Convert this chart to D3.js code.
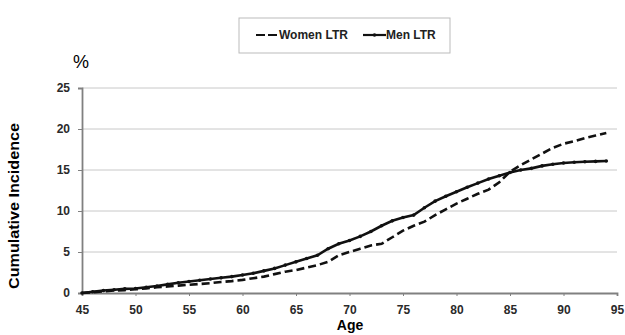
<!doctype html>
<html>
  <head>
    <script src="https://cdn.jsdelivr.net/npm/d3@7"></script>
    <style>
      body { margin: 0; background: #fff; }
      text { font-family: "Liberation Sans", Arial, sans-serif; }
    </style>
  </head>
  <body>
    <div id="my_dataviz"></div>
    <script>
      // ages 45..94, one value per year
      var ages = d3.range(45, 95);
      var womenLTR = [0.0, 0.1, 0.2, 0.3, 0.35, 0.45, 0.55, 0.7, 0.8, 0.9,
        1.0, 1.1, 1.2, 1.35, 1.45, 1.6, 1.8, 2.0, 2.3, 2.6,
        2.8, 3.1, 3.4, 3.8, 4.6, 5.0, 5.4, 5.8, 6.0, 6.8,
        7.6, 8.2, 8.7, 9.5, 10.2, 10.9, 11.5, 12.1, 12.6, 13.5,
        14.8, 15.6, 16.3, 17.0, 17.7, 18.2, 18.5, 18.9, 19.2, 19.5];
      var menLTR = [0.0, 0.15, 0.3, 0.4, 0.5, 0.55, 0.7, 0.85, 1.05, 1.25,
        1.4, 1.55, 1.7, 1.85, 2.0, 2.2, 2.4, 2.7, 3.0, 3.4,
        3.8, 4.2, 4.6, 5.4, 6.0, 6.4, 6.9, 7.5, 8.2, 8.8,
        9.2, 9.5, 10.4, 11.2, 11.8, 12.35, 12.9, 13.4, 13.9, 14.3,
        14.7, 15.0, 15.2, 15.5, 15.7, 15.85, 15.95, 16.0, 16.05, 16.1];
      var xTicks = [45, 50, 55, 60, 65, 70, 75, 80, 85, 90, 95];
      var yTicks = [0, 5, 10, 15, 20, 25];

      var W = 625, H = 335;
      var svg = d3.select("#my_dataviz")
        .append("svg")
          .attr("width", W)
          .attr("height", H);

      var x = d3.scaleLinear().domain([45, 95]).range([82, 617]);
      var y = d3.scaleLinear().domain([0, 25]).range([293, 88]);

      // gridlines
      svg.selectAll("grid")
        .data(yTicks.filter(function(d){ return d > 0; }))
        .enter()
        .append("line")
          .attr("x1", x(45)).attr("x2", x(95))
          .attr("y1", function(d){ return y(d); })
          .attr("y2", function(d){ return y(d); })
          .attr("stroke", "#c8c8c8")
          .attr("stroke-width", 1);

      // x axis
      var xAxis = svg.append("g")
        .attr("transform", "translate(0," + y(0) + ")")
        .call(d3.axisBottom(x).tickValues(xTicks).tickSize(3).tickPadding(9));
      // y axis
      var yAxis = svg.append("g")
        .attr("transform", "translate(" + x(45) + ",0)")
        .call(d3.axisLeft(y).tickValues(yTicks).tickSize(4).tickPadding(8));

      [xAxis, yAxis].forEach(function(a){
        a.select(".domain").attr("stroke", "#808080").attr("stroke-width", 1.8);
        a.selectAll(".tick line").attr("stroke", "#808080");
        a.selectAll(".tick text")
          .style("font-family", "'Liberation Sans', Arial, sans-serif")
          .style("font-size", "12px")
          .style("font-weight", "bold")
          .attr("fill", "#2a2a2a");
      });

      // line generator
      var line = d3.line()
        .x(function(d){ return x(d.age); })
        .y(function(d){ return y(d.value); });

      var women = ages.map(function(a, i){ return {age: a, value: womenLTR[i]}; });
      var men = ages.map(function(a, i){ return {age: a, value: menLTR[i]}; });

      svg.append("path")
        .attr("d", line(women))
        .attr("fill", "none")
        .attr("stroke", "#111")
        .attr("stroke-width", 2.6)
        .attr("stroke-dasharray", "8,4");

      svg.append("path")
        .attr("d", line(men))
        .attr("fill", "none")
        .attr("stroke", "#111")
        .attr("stroke-width", 2.6);

      // small markers on men line
      svg.selectAll("menDots")
        .data(men)
        .enter()
        .append("circle")
          .attr("cx", function(d){ return x(d.age); })
          .attr("cy", function(d){ return y(d.value); })
          .attr("r", 1.8)
          .attr("fill", "#111");

      // titles
      svg.append("text")
        .attr("x", 81).attr("y", 68)
        .attr("text-anchor", "middle")
        .style("font-size", "18px")
        .text("%");

      svg.append("text")
        .attr("transform", "translate(19,206) rotate(-90)")
        .attr("text-anchor", "middle")
        .attr("textLength", 166)
        .attr("lengthAdjust", "spacingAndGlyphs")
        .style("font-size", "14px")
        .style("font-weight", "bold")
        .text("Cumulative Incidence");

      svg.append("text")
        .attr("x", 350).attr("y", 330)
        .attr("text-anchor", "middle")
        .style("font-size", "14px")
        .style("font-weight", "bold")
        .text("Age");

      // legend
      var leg = svg.append("g");
      leg.append("rect")
        .attr("x", 239).attr("y", 18)
        .attr("width", 211).attr("height", 35)
        .attr("fill", "#fff")
        .attr("stroke", "#bbb")
        .attr("stroke-width", 1);
      var legItems = [
        {name: "Women LTR", x: 256, dash: "9,3"},
        {name: "Men LTR", x: 363, dash: null}
      ];
      legItems.forEach(function(d){
        var l = leg.append("line")
          .attr("x1", d.x).attr("x2", d.x + 23)
          .attr("y1", 35).attr("y2", 35)
          .attr("stroke", "#111")
          .attr("stroke-width", 2.2);
        if (d.dash) l.attr("stroke-dasharray", d.dash);
        else leg.append("circle").attr("cx", d.x + 11.5).attr("cy", 35).attr("r", 1.8).attr("fill", "#111");
        leg.append("text")
          .attr("x", d.x + 23).attr("y", 39)
          .style("font-size", "12px")
          .style("font-weight", "bold")
          .attr("fill", "#222")
          .text(d.name);
      });
    </script>
  </body>
</html>
